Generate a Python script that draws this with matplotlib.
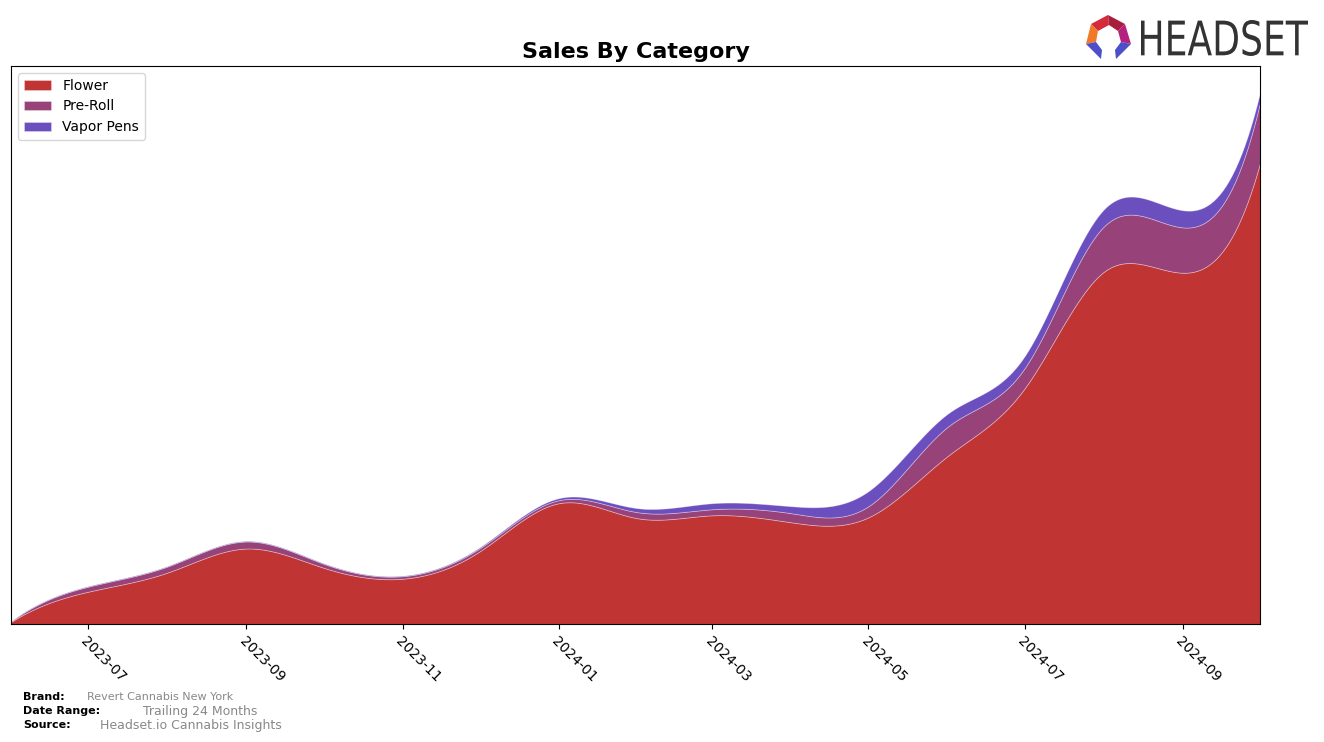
import numpy as np
import pandas as pd
import matplotlib
matplotlib.use("Agg")
import matplotlib.pyplot as plt
import matplotlib.dates as mdates
from matplotlib.patches import Polygon, PathPatch
from matplotlib.textpath import TextPath
from matplotlib.font_manager import FontProperties
from matplotlib.transforms import Affine2D

# ---------------- data ----------------
months = ["2023-06", "2023-07", "2023-08", "2023-09", "2023-10", "2023-11", "2023-12",
          "2024-01", "2024-02", "2024-03", "2024-04", "2024-05", "2024-06", "2024-07",
          "2024-08", "2024-09", "2024-10"]
categories = ["Flower", "Pre-Roll", "Vapor Pens"]
flower = [2, 32, 51, 75, 56, 45, 72, 120, 105, 108, 101, 106, 167, 234, 350, 349, 458]
pre_roll = [0.5, 5, 6, 7, 4, 2.5, 3, 3, 6, 6, 9, 11, 29, 20, 45, 45, 60]
vapor_pens = [0.3, 0.5, 0.5, 0.5, 0.5, 0.5, 1, 2, 4, 6, 7, 15, 13, 12, 17, 17, 10]
colors = ["#C13434", "#974279", "#6B4FBF"]

brand = "Revert Cannabis New York"
date_range = "Trailing 24 Months"
source = "Headset.io Cannabis Insights"
logo_text = "HEADSET"


def smooth(x, y, xs):
    try:
        from scipy.interpolate import make_interp_spline
        return make_interp_spline(x, y, k=3)(xs)
    except Exception:
        # natural cubic spline
        x = np.asarray(x, float); y = np.asarray(y, float)
        n = len(x); h = np.diff(x)
        A = np.zeros((n, n)); b = np.zeros(n)
        A[0, 0] = 1; A[-1, -1] = 1
        for i in range(1, n - 1):
            A[i, i - 1] = h[i - 1]; A[i, i] = 2 * (h[i - 1] + h[i]); A[i, i + 1] = h[i]
            b[i] = 3 * ((y[i + 1] - y[i]) / h[i] - (y[i] - y[i - 1]) / h[i - 1])
        c = np.linalg.solve(A, b)
        bb = (y[1:] - y[:-1]) / h - h * (2 * c[:-1] + c[1:]) / 3
        d = (c[1:] - c[:-1]) / (3 * h)
        idx = np.clip(np.searchsorted(x, xs) - 1, 0, n - 2)
        t = xs - x[idx]
        return y[idx] + bb[idx] * t + c[idx] * t ** 2 + d[idx] * t ** 3


dates = pd.to_datetime(months)
xnum = mdates.date2num(dates)
xs = np.linspace(xnum[0], xnum[-1], 400)
series = [flower, pre_roll, vapor_pens]
ys = [np.clip(smooth(xnum, s, xs), 0, None) for s in series]

W, H = 1324, 742
fig = plt.figure(figsize=(W / 100, H / 100), dpi=100)
ax = fig.add_axes([11 / W, 1 - 624 / H, 1249 / W, 558 / H])
ax.stackplot(mdates.num2date(xs), *ys, labels=categories, colors=colors,
             edgecolor=(1, 1, 1, 0.35), linewidth=0.6)
total = np.sum(ys, axis=0)
ax.set_xlim(mdates.num2date(xnum[0]), mdates.num2date(xnum[-1]))
ax.set_ylim(0, total.max() * 1.05)
ax.set_yticks([])
ax.xaxis.set_major_locator(mdates.MonthLocator(bymonth=[1, 3, 5, 7, 9, 11]))
ax.xaxis.set_major_formatter(mdates.DateFormatter("%Y-%m"))
for lab in ax.get_xticklabels():
    lab.set_rotation(-45)
    lab.set_ha("left")
    lab.set_rotation_mode("anchor")
    lab.set_fontsize(10)
ax.set_title("Sales By Category", fontsize=16, fontweight="bold", pad=6)
leg = ax.legend(loc="upper left", fontsize=10, frameon=True, handlelength=2.0)
leg.get_frame().set_edgecolor("#cccccc")

# footer
fig.text(23 / W, 1 - 697 / H, "Brand:", fontsize=8, fontweight="bold", va="center")
fig.text(87 / W, 1 - 697 / H, brand, fontsize=8, color="#888888", va="center")
fig.text(23 / W, 1 - 711 / H, "Date Range:", fontsize=8, fontweight="bold", va="center")
fig.text(143 / W, 1 - 711 / H, date_range, fontsize=9, color="#888888", va="center")
fig.text(23 / W, 1 - 725 / H, "Source:", fontsize=8, fontweight="bold", va="center")
fig.text(100 / W, 1 - 725 / H, source, fontsize=9, color="#888888", va="center")

# logo icon
def P(pts, c):
    fig.patches.append(Polygon([(px / W, 1 - py / H) for px, py in pts], closed=True,
                               transform=fig.transFigure, facecolor=c, edgecolor="none"))

P([(1091, 24), (1108, 15), (1109, 25), (1098, 31)], "#D42A3A")
P([(1108, 15), (1125, 24), (1118, 31), (1109, 25)], "#A81E3C")
P([(1091, 24), (1098, 31), (1096, 42), (1086, 44)], "#F07A28")
P([(1125, 24), (1131, 44), (1121, 42), (1118, 31)], "#B5217E")
P([(1086, 44), (1096, 42), (1102, 50), (1101, 59)], "#4C4FC9")
P([(1131, 44), (1121, 42), (1115, 50), (1116, 59)], "#4C4FC9")

# logo text, condensed to fit its box
tp = TextPath((0, 0), logo_text, size=1, prop=FontProperties(family="DejaVu Sans"))
ext = tp.get_extents()
x0, x1, ytop, ybot = 1141, 1308, 20, 56
sx = (x1 - x0) / ext.width
sy = (ybot - ytop) / ext.height
tr = (Affine2D().translate(-ext.x0, -ext.y0).scale(sx / W, sy / H)
      .translate(x0 / W, 1 - ybot / H) + fig.transFigure)
fig.patches.append(PathPatch(tp, transform=tr, facecolor="#333333", edgecolor="none"))

fig.savefig("out.png", dpi=100)
